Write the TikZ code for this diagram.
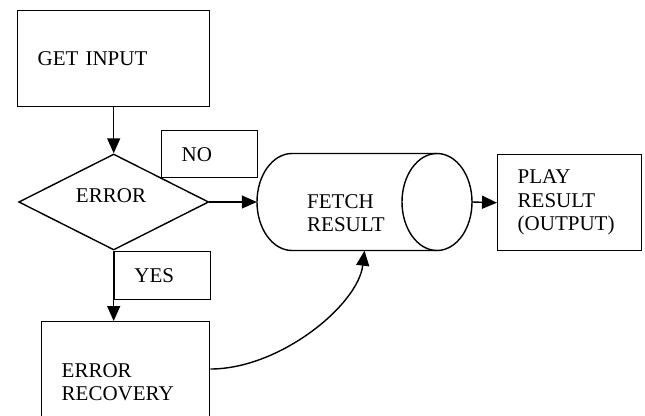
\documentclass[tikz,border=0pt]{standalone}
\usepackage{fontspec}
\setmainfont{Liberation Serif}
\usetikzlibrary{arrows.meta,shapes.geometric}
\begin{document}
\begin{tikzpicture}[x=1pt,y=1pt,
  every node/.style={font=\fontsize{21}{23.5}\selectfont},
  box/.style={draw, line width=1.4pt, align=left, inner xsep=20pt, inner ysep=0pt, anchor=north west},
  arr/.style={line width=1.4pt, -{Triangle[length=15pt,width=13pt]}},
  ln/.style={line width=1.4pt}]
\useasboundingbox (0,0) rectangle (645,-415);
\clip (0,0) rectangle (645,-415);
% boxes
\node[box, text width=152pt, minimum height=96pt] (input) at (17,-10) {GET INPUT};
\node[diamond, draw, line width=1.4pt, minimum width=190pt, minimum height=96pt, inner sep=0pt] (err) at (input.south |- 0,-202) {};
\node[inner sep=0pt] (errtext) at (111,-196) {ERROR};
\node[box, text width=56pt, minimum height=47pt] (no) at (161,-130) {NO};
\node[box, text width=56pt, minimum height=48pt] (yes) at (err.south) {YES};
\node[box, text width=128pt, minimum height=121pt] (recovery) at (41,-321) {ERROR\\RECOVERY};
\node[box, text width=104pt, minimum height=96pt] (play) at (497,-154) {PLAY\\RESULT\\(OUTPUT)};
% cylinder
\node[minimum width=215pt, minimum height=97pt, inner sep=0pt] (fetch) at (364.5,-202) {};
\draw[ln] (437,-153.5) -- (292,-153.5)
  arc[start angle=90, end angle=270, x radius=35pt, y radius=48.5pt] -- (437,-250.5);
\draw[ln] (437,-202) ellipse[x radius=35pt, y radius=48.5pt];
\node[inner sep=0pt, anchor=west, align=left] (fetchtext) at (307,-213) {FETCH\\RESULT};
% connectors
\draw[arr] (input.south) -- (err.north);
\draw[arr] (err.east) -- (fetch.west);
\draw[arr] (fetch.east) -- (play.west);
\draw[arr] (err.south) -- (err.south |- recovery.north);
\draw[arr] (recovery.east |- 0,-369) .. controls (280,-369) and (358,-305) .. (fetch.south);
\end{tikzpicture}
\end{document}
